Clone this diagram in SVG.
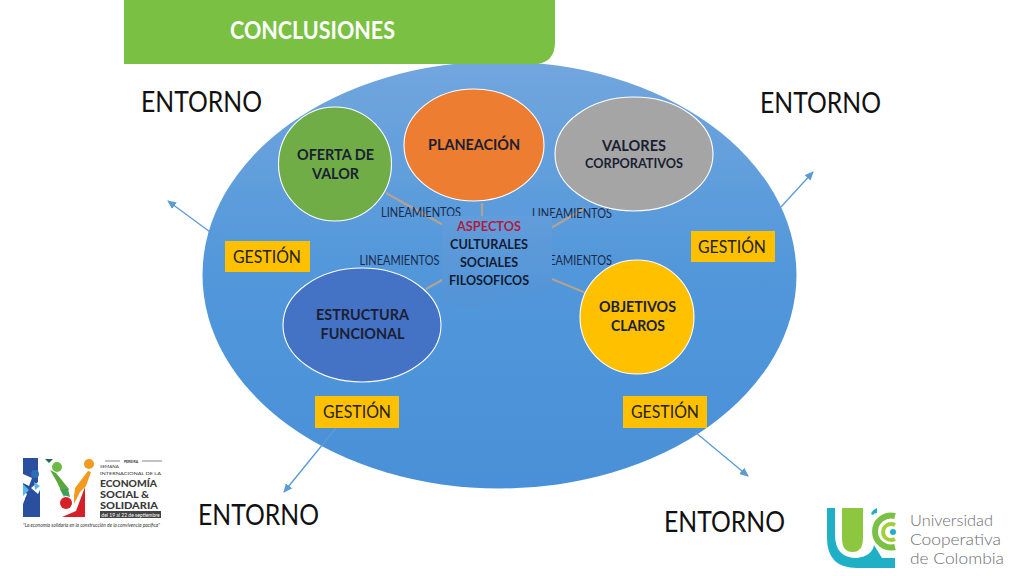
<svg xmlns="http://www.w3.org/2000/svg" width="1024" height="576" viewBox="0 0 1024 576">
<defs>
<linearGradient id="bg" x1="0" y1="0" x2="0" y2="1"><stop offset="0" stop-color="#72a6de"/><stop offset="0.5" stop-color="#5197da"/><stop offset="1" stop-color="#4a90d8"/></linearGradient>
<linearGradient id="docg" x1="0" y1="0" x2="0" y2="1"><stop offset="0" stop-color="#629cdb"/><stop offset="1" stop-color="#5294d6"/></linearGradient>
<marker id="arr" markerWidth="9" markerHeight="8" refX="8" refY="4" orient="auto" markerUnits="userSpaceOnUse"><path d="M0 0L9 4L0 8Z" fill="#5b9bd5"/></marker>
</defs>
<style>
text{font-family:Lato,"Open Sans","Liberation Sans",sans-serif;text-anchor:middle}
.node{stroke:#fff;stroke-width:1.1}
.lbl{font-size:14.500px;font-weight:700;fill:#1a1f33}
.lin{font-size:12.500px;fill:#1a2a4a}
.ent{font-size:28px;fill:#111}
.ges{fill:#ffc000}
.gt{font-size:17px;fill:#222}
.con{stroke:#b3a293;stroke-width:2.200;fill:none}
.arw{stroke:#5b9bd5;stroke-width:1.300;fill:none;marker-end:url(#arr)}
.doc{font-size:14px;font-weight:700;fill:#111c33}
.s{text-anchor:start}
.big{font-size:10px;font-weight:900;fill:#3a3a3a}
.uni{font-size:15px;font-weight:300;fill:#6d6e71}
</style>
<rect width="1024" height="576" fill="#fff"/>
<g id="big-ellipse"><ellipse cx="499.500" cy="275" rx="297" ry="213.500" fill="url(#bg)"/></g>
<g id="header"><path d="M124 0H555V42Q555 64 533 64H124Z" fill="#7ac143"/><text x="312.500" y="39" font-size="24" font-weight="700" fill="#fff" textLength="165" lengthAdjust="spacingAndGlyphs">CONCLUSIONES</text></g>
<g id="connectors">
<path class="con" d="M386 193L445 226M482 203L482 218M585 208L551 228M426 289L444 279M552 279L586 293"/>
<path class="arw" d="M225 243L168 201"/>
<path class="arw" d="M781 207L813 172"/>
<path class="arw" d="M336 428L284 492"/>
<path class="arw" d="M695 432L748 476"/>
</g>
<g id="lineamientos">
<text class="lin" x="421" y="217" textLength="80" lengthAdjust="spacingAndGlyphs">LINEAMIENTOS</text>
<text class="lin" x="572" y="218" textLength="80" lengthAdjust="spacingAndGlyphs">LINEAMIENTOS</text>
<text class="lin" x="399.500" y="265" textLength="80" lengthAdjust="spacingAndGlyphs">LINEAMIENTOS</text>
<text class="lin" x="572" y="265" textLength="80" lengthAdjust="spacingAndGlyphs">LINEAMIENTOS</text>
</g>
<g id="oferta"><ellipse class="node" cx="335" cy="164" rx="56.500" ry="57" fill="#70ad47"/><text class="lbl" x="335.500" y="160" textLength="77" lengthAdjust="spacingAndGlyphs">OFERTA DE</text><text class="lbl" x="335.500" y="179" textLength="47" lengthAdjust="spacingAndGlyphs">VALOR</text></g>
<g id="planeacion"><ellipse class="node" cx="474" cy="145" rx="70" ry="56" fill="#ed7d31"/><text class="lbl" x="474" y="150" textLength="92" lengthAdjust="spacingAndGlyphs">PLANEACIÓN</text></g>
<g id="valores"><ellipse class="node" cx="634" cy="154" rx="79" ry="57" fill="#a5a5a5"/><text class="lbl" x="634" y="151" textLength="64" lengthAdjust="spacingAndGlyphs">VALORES</text><text x="634" y="168" font-size="13" font-weight="700" fill="#1a1f33" textLength="98" lengthAdjust="spacingAndGlyphs">CORPORATIVOS</text></g>
<g id="estructura"><ellipse class="node" cx="362" cy="325" rx="79" ry="57" fill="#4472c4"/><text class="lbl" x="362.500" y="320" textLength="93" lengthAdjust="spacingAndGlyphs">ESTRUCTURA</text><text class="lbl" x="362.500" y="339" textLength="84" lengthAdjust="spacingAndGlyphs">FUNCIONAL</text></g>
<g id="objetivos"><ellipse class="node" cx="637" cy="317" rx="57" ry="57" fill="#ffc000"/><text class="lbl" x="637.500" y="312" textLength="77" lengthAdjust="spacingAndGlyphs">OBJETIVOS</text><text class="lbl" x="638" y="331" textLength="54" lengthAdjust="spacingAndGlyphs">CLAROS</text></g>
<g id="aspectos"><path d="M442 216H552V288Q520 292 497 302Q470 312 442 303Z" fill="url(#docg)"/>
<text class="doc" x="489" y="231" style="fill:#b01e3c" textLength="64" lengthAdjust="spacingAndGlyphs">ASPECTOS</text><text class="doc" x="489" y="249" textLength="78" lengthAdjust="spacingAndGlyphs">CULTURALES</text><text class="doc" x="489" y="267" textLength="58" lengthAdjust="spacingAndGlyphs">SOCIALES</text><text class="doc" x="489" y="285" textLength="80" lengthAdjust="spacingAndGlyphs">FILOSOFICOS</text></g>
<g id="gestion-1"><rect class="ges" x="225" y="241" width="85" height="31"/><text class="gt" x="267" y="263" textLength="68" lengthAdjust="spacingAndGlyphs">GESTIÓN</text></g>
<g id="gestion-2"><rect class="ges" x="691" y="231" width="84" height="31"/><text class="gt" x="732" y="253" textLength="68" lengthAdjust="spacingAndGlyphs">GESTIÓN</text></g>
<g id="gestion-3"><rect class="ges" x="315" y="396" width="84" height="32"/><text class="gt" x="357" y="418" textLength="68" lengthAdjust="spacingAndGlyphs">GESTIÓN</text></g>
<g id="gestion-4"><rect class="ges" x="623" y="396" width="84" height="32"/><text class="gt" x="665" y="418" textLength="68" lengthAdjust="spacingAndGlyphs">GESTIÓN</text></g>
<g id="entorno">
<text class="ent" x="201.500" y="112" textLength="121" lengthAdjust="spacingAndGlyphs">ENTORNO</text>
<text class="ent" x="820.500" y="113" textLength="121" lengthAdjust="spacingAndGlyphs">ENTORNO</text>
<text class="ent" x="258.500" y="525" textLength="121" lengthAdjust="spacingAndGlyphs">ENTORNO</text>
<text class="ent" x="724.500" y="532" textLength="121" lengthAdjust="spacingAndGlyphs">ENTORNO</text>
</g>
<g id="logo-semana">
<path d="M23 458H38V482L31 488L38 494L40 490V517H23V504L27 494L23 490V483L29 486L32 478L23 474Z" fill="#2a4f9e"/>
<path d="M23 484L29 490L23 496ZM34 482L40 486L35 490Z" fill="#55b8e8"/>
<circle cx="35" cy="474" r="4" fill="#2a6fb5"/><circle cx="29" cy="500" r="4" fill="#2a4f9e"/>
<path d="M45 459H53L49 463Z" fill="#1d6b4e"/>
<path d="M50 470L56 473L69 489L64 497L57 482Z" fill="#5aa83c"/>
<path d="M60 489L68 489L70 497L63 495Z" fill="#3f9e5a"/>
<circle cx="57" cy="467" r="5" fill="#6dbb45"/>
<path d="M75 488L88 471L91 472L86 486L80 492L74 504L74 496Z" fill="#f29a1f"/>
<circle cx="89" cy="464" r="5" fill="#f29a1f"/>
<path d="M62 517L76 511L85 487V517Z" fill="#d62027"/><circle cx="66" cy="503" r="6" fill="#d62027"/>
<text x="131" y="463" font-size="3.500" font-weight="700" fill="#333">PEREIRA</text>
<path d="M105 461H120M142 461H162" stroke="#333" stroke-width="0.600"/>
<text class="s" x="100" y="468" font-size="4.500" fill="#333">SEMANA</text>
<text class="s" x="100" y="474.500" font-size="4.500" fill="#333" textLength="61" lengthAdjust="spacingAndGlyphs">INTERNACIONAL DE LA</text>
<text class="s big" x="100" y="487" textLength="57" lengthAdjust="spacingAndGlyphs">ECONOMÍA</text>
<text class="s big" x="100" y="498" textLength="49" lengthAdjust="spacingAndGlyphs">SOCIAL &amp;</text>
<text class="s big" x="100" y="509" textLength="58" lengthAdjust="spacingAndGlyphs">SOLIDARIA</text>
<rect x="100" y="511" width="61" height="7" fill="#444"/><text x="130.500" y="516.500" font-size="5" fill="#fff">del 19 al 22 de septiembre</text>
<text x="91.500" y="527" font-size="5.300" font-style="italic" fill="#333" textLength="137" lengthAdjust="spacingAndGlyphs">"La economía solidaria en la construcción de la convivencia pacífica"</text>
</g>
<g id="logo-ucc">
<path d="M827 508H835V535Q835 558 857 558H895V568H857Q827 568 827 538Z" fill="#1fb0c6"/>
<path d="M857 558Q872 556 874 545L882 558Z" fill="#1fb0c6"/>
<path d="M842 508H863V538Q863 552 852.500 552Q842 552 842 538Z" fill="#8dc63f"/>
<path d="M895 516A16 16 0 1 0 895 547" fill="none" stroke="#7ac143" stroke-width="6"/>
<path d="M895 525A8 8 0 1 0 895 539" fill="none" stroke="#a4cf3c" stroke-width="4"/>
<circle cx="893" cy="532" r="3" fill="#1fb0c6"/>
<path d="M871 514Q872 510 877 508V513Q874 513 873 515Z" fill="#1fb0c6"/>
<text class="s uni" x="910" y="526" textLength="83" lengthAdjust="spacingAndGlyphs">Universidad</text>
<text class="s uni" x="910" y="545" textLength="91" lengthAdjust="spacingAndGlyphs">Cooperativa</text>
<text class="s uni" x="910" y="564" textLength="94" lengthAdjust="spacingAndGlyphs">de Colombia</text>
</g>
</svg>
